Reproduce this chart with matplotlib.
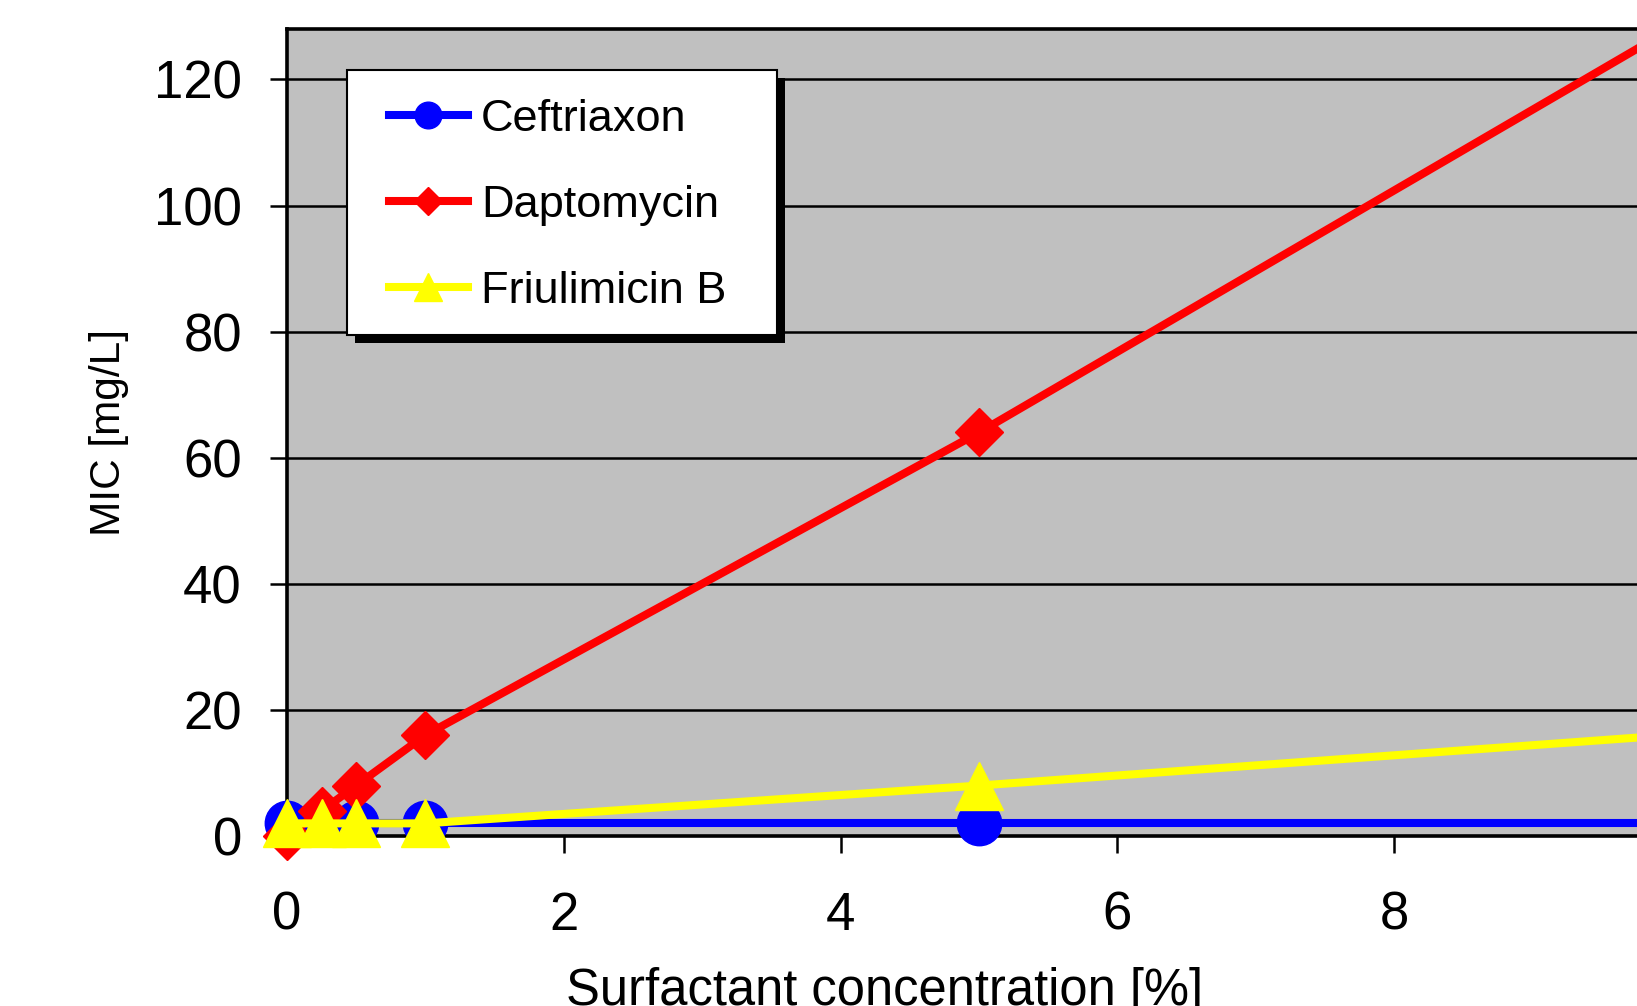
import matplotlib
matplotlib.use("Agg")
import matplotlib.pyplot as plt
from matplotlib.patches import Rectangle

plt.rcParams['font.family'] = ['Liberation Sans', 'DejaVu Sans']

# MIC values vs surfactant concentration
conc = [0, 0.25, 0.5, 1, 5, 10]
ceftriaxon = [2, 2, 2, 2, 2, 2]
daptomycin = [0, 4, 8, 16, 64, 128]
friulimicin = [2, 2, 2, 2, 8, 16]

x_ticks = [0, 2, 4, 6, 8]
y_ticks = [0, 20, 40, 60, 80, 100, 120]

fig = plt.figure(figsize=(16.37, 10.06), dpi=100)
# plot area runs past the right edge of the figure (x up to 10)
ax = fig.add_axes([0.17532, 0.16899, 0.84545, 0.80219])
ax.set_facecolor('#C0C0C0')

ax.plot(conc, ceftriaxon, color='#0000FF', lw=5.8, marker='o', ms=32,
        label='Ceftriaxon', clip_on=False, zorder=3)
ax.plot(conc, daptomycin, color='#FF0000', lw=5.8, marker='D', ms=24,
        label='Daptomycin', clip_on=False, zorder=3)
ax.plot(conc, friulimicin, color='#FFFF00', lw=5.8, marker='^', ms=34,
        label='Friulimicin B', clip_on=False, zorder=3)

ax.set_xlim(0, 10)
ax.set_ylim(0, 128)
ax.set_xticks(x_ticks)
ax.set_yticks(y_ticks)
ax.yaxis.grid(True, color='black', lw=1.8)
ax.set_axisbelow(True)

for s in ax.spines.values():
    s.set_linewidth(2.6)
    s.set_color('black')

ax.tick_params(axis='both', direction='out', length=12.5, width=1.8,
               labelsize=38, colors='black')
ax.tick_params(axis='y', pad=20)
ax.tick_params(axis='x', pad=27)

ax.set_ylabel('MIC [mg/L]', fontsize=30.5)
ax.yaxis.set_label_coords(-0.114, 0.5)
ax.set_xlabel('Surfactant concentration [%]', fontsize=36.5, va='top')
ax.xaxis.set_label_coords(0.432, -0.162)

leg = ax.legend(loc='upper left', bbox_to_anchor=(0.2236, 0.9244),
                bbox_transform=fig.transFigure, frameon=False, borderpad=0,
                fontsize=32.5, handlelength=1.75, handletextpad=0.3,
                labelspacing=1.0, markerscale=0.6)
leg.set_zorder(10)

# white legend box with a solid black drop shadow
fig.canvas.draw()
bb = leg.get_window_extent()
x0, x1 = bb.x0 - 42, bb.x1 + 50
y0, y1 = bb.y0 - 23, bb.y1 + 29
shadow = Rectangle((x0 + 8, y0 - 8), x1 - x0, y1 - y0, transform=None,
                   facecolor='black', edgecolor='none', clip_on=False, zorder=8)
frame = Rectangle((x0, y0), x1 - x0, y1 - y0, transform=None,
                  facecolor='white', edgecolor='black', lw=1.5,
                  clip_on=False, zorder=9)
ax.add_artist(shadow)
ax.add_artist(frame)

fig.savefig('out.png', dpi=100)
